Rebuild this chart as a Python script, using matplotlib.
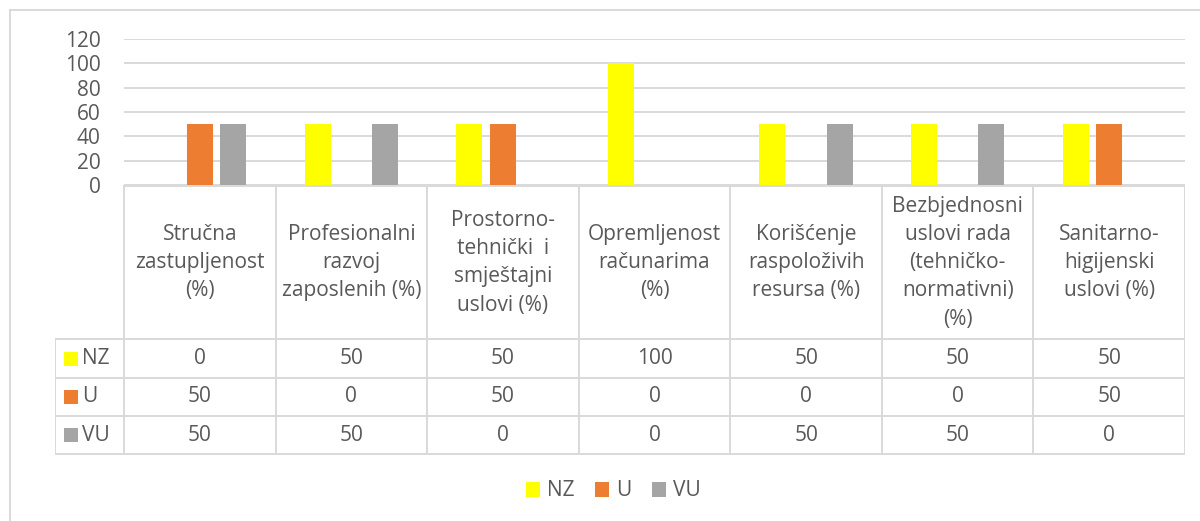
import numpy as np
import matplotlib.pyplot as plt
from matplotlib.patches import Rectangle

plt.rcParams['font.family'] = ['Open Sans', 'DejaVu Sans']

categories = ["Stručna\nzastupljenost\n(%)",
              "Profesionalni\nrazvoj\nzaposlenih (%)",
              "Prostorno-\ntehnički  i\nsmještajni\nuslovi (%)",
              "Opremljenost\nračunarima\n(%)",
              "Korišćenje\nraspoloživih\nresursa (%)",
              "Bezbjednosni\nuslovi rada\n(tehničko-\nnormativni)\n(%)",
              "Sanitarno-\nhigijenski\nuslovi (%)"]
series = ["NZ", "U", "VU"]
nz = [0, 50, 50, 100, 50, 50, 50]
u = [50, 0, 50, 0, 0, 0, 50]
vu = [50, 50, 0, 0, 50, 50, 0]
colors = ["#FFFF00", "#ED7D31", "#A5A5A5"]

W, H = 1200, 521
txt = "#595959"
grid = "#D9D9D9"
fs = 15

fig = plt.figure(figsize=(W / 100, H / 100), dpi=100)

def box(x0, y0, x1, y1):
    # pixel box (top-left origin) -> figure fraction
    return [x0 / W, 1 - y1 / H, (x1 - x0) / W, (y1 - y0) / H]

# chart frame (only left and top visible)
fig.patches.append(Rectangle((10 / W, -0.1), 1.2, 1 - 10 / H + 0.1, transform=fig.transFigure,
                             fill=False, edgecolor=grid, linewidth=1.4))

# bars
ax = fig.add_axes(box(124, 39, 1185, 185))
x = np.arange(len(categories))
bw = 0.172
step = 0.222
vals = [nz, u, vu]
handles = []
for i, v in enumerate(vals):
    h = ax.bar(x + (i - 1) * step, v, bw, color=colors[i], label=series[i], zorder=3)
    handles.append(h)
ax.set_xlim(-0.5, len(categories) - 0.5)
ax.set_ylim(0, 120)
ax.set_yticks(range(0, 121, 20))
ax.set_xticks([])
ax.yaxis.grid(True, color=grid, linewidth=1.4, zorder=0)
ax.tick_params(axis='y', length=0, pad=17, labelsize=fs, labelcolor=txt)
for s in ax.spines.values():
    s.set_visible(False)

# data table
lab_w = 69 / 151.6
hdr = 154
rh = 38.4
tb = fig.add_axes(box(55, 185, 1185, 186 + hdr + 3 * rh))
tb.set_xlim(-0.5 - lab_w, len(categories) - 0.5)
tb.set_ylim(hdr + 3 * rh + 1, -1)
tb.axis('off')
lk = dict(color=grid, linewidth=1.4, solid_capstyle='projecting')
tb.plot([-0.5, len(categories) - 0.5], [0, 0], **lk)
for k in range(len(categories) + 1):
    tb.plot([k - 0.5, k - 0.5], [0, hdr + 3 * rh], **lk)
tb.plot([-0.5 - lab_w, -0.5 - lab_w], [hdr, hdr + 3 * rh], **lk)
for r in range(4):
    tb.plot([-0.5 - lab_w, len(categories) - 0.5], [hdr + r * rh] * 2, **lk)
for k, c in enumerate(categories):
    tb.text(k, hdr / 2, c, ha='center', va='center', fontsize=fs, color=txt, linespacing=1.45)
for r, (name, v) in enumerate(zip(series, vals)):
    yc = hdr + (r + 0.5) * rh
    tb.add_patch(Rectangle((-0.5 - lab_w + 9 / 151.6, yc - 7), 14 / 151.6, 14,
                           facecolor=colors[r], edgecolor='none'))
    tb.text(-0.5 - lab_w + 27 / 151.6, yc, name, ha='left', va='center', fontsize=fs, color=txt)
    for k, val in enumerate(v):
        tb.text(k, yc, str(val), ha='center', va='center', fontsize=fs, color=txt)

fig.legend(handles=handles, labels=series, loc='center', bbox_to_anchor=(613 / W, 1 - 491 / H),
           ncol=3, frameon=False, fontsize=fs, labelcolor=txt, handlelength=0.7, handleheight=0.7,
           handletextpad=0.3, columnspacing=1.0)

fig.savefig("out.png", dpi=100, facecolor="white")
